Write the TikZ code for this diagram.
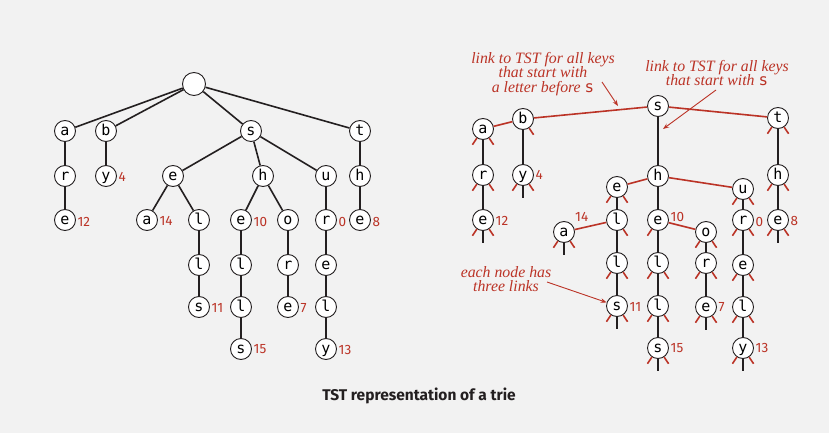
\documentclass[tikz,border=0pt]{standalone}
\usepackage{fontspec}
\setmainfont{Liberation Serif}
\newfontfamily\nodefont{DejaVu Sans Mono}
\newfontfamily\lblfont{Fira Sans}
\usetikzlibrary{arrows.meta}
\definecolor{bgc}{RGB}{242,242,242}
\definecolor{tstred}{RGB}{187,51,38}
\definecolor{edgec}{RGB}{35,31,32}
\newcommand\stL[1]{\draw[rl] (#1.-124) -- ++(-124:8pt);}
\newcommand\stR[1]{\draw[rl] (#1.-56) -- ++(-56:8pt);}
\newcommand\stM[1]{\draw[blk] (#1.south) -- ++(0pt,-12pt);}
\begin{document}
\begin{tikzpicture}[x=1pt,y=-1pt,
  nd/.style={circle,draw=edgec,line width=0.9pt,fill=white,minimum size=21pt,inner sep=0pt,
    font=\nodefont\fontsize{15}{15}\selectfont,text height=10.5pt,text depth=2.3pt},
  rootnd/.style={nd,minimum size=23pt},
  blk/.style={draw=edgec,line width=1.6pt},
  rl/.style={draw=tstred,line width=1.6pt},
  num/.style={inner sep=0pt,text=tstred,font=\lblfont\fontsize{13.5}{13.5}\selectfont},
  ann/.style={inner sep=0pt,align=center,text=tstred,font=\itshape\fontsize{15.8}{14.5}\selectfont},
  redarr/.style={draw=tstred,line width=0.9pt,-{Stealth[length=6pt,width=4.5pt]}}]
\fill[bgc] (0,0) rectangle (829,433);
\useasboundingbox (0,0) rectangle (829,433);
% ---------- left trie ----------
\node[rootnd] (Lroot) at (194,84) {};
\node[nd] (La) at (65,131) {a};
\node[nd] (Lb) at (106,131) {b};
\node[nd] (Ls) at (251,131) {s};
\node[nd] (Lt) at (360,131) {t};
\node[nd] (Lr) at (65,176) {r};
\node[nd] (Ly) at (106,176) {y};
\node[nd] (Le) at (173,176) {e};
\node[nd] (Lh) at (263,176) {h};
\node[nd] (Lu) at (326,176) {u};
\node[nd] (Lth) at (360,176) {h};
\node[nd] (Le12) at (65,220) {e};
\node[nd] (La14) at (147,220) {a};
\node[nd] (Ll1) at (199,220) {l};
\node[nd] (Le10) at (241,220) {e};
\node[nd] (Lo) at (288,220) {o};
\node[nd] (Lr0) at (326,220) {r};
\node[nd] (Le8) at (360,220) {e};
\node[nd] (Ll2) at (199,265) {l};
\node[nd] (Ll3) at (241,265) {l};
\node[nd] (Lr2) at (288,265) {r};
\node[nd] (Le3) at (326,265) {e};
\node[nd] (Ls11) at (199,307) {s};
\node[nd] (Ll4) at (241,307) {l};
\node[nd] (Le7) at (288,307) {e};
\node[nd] (Ll5) at (326,307) {l};
\node[nd] (Ls15) at (241,349) {s};
\node[nd] (Ly13) at (326,349) {y};
\foreach \a/\b in {Lroot/La,Lroot/Lb,Lroot/Ls,Lroot/Lt,La/Lr,Lr/Le12,Lb/Ly,
  Ls/Le,Ls/Lh,Ls/Lu,Le/La14,Le/Ll1,Ll1/Ll2,Ll2/Ls11,Lh/Le10,Lh/Lo,
  Le10/Ll3,Ll3/Ll4,Ll4/Ls15,Lo/Lr2,Lr2/Le7,Lu/Lr0,Lr0/Le3,Le3/Ll5,Ll5/Ly13,
  Lt/Lth,Lth/Le8}
  \draw[blk] (\a) -- (\b);
\node[num,anchor=west] (nLy) at ([xshift=1.5pt,yshift=-0.5pt]Ly.east) {4};
\node[num,anchor=west] (nLe12) at ([xshift=1.5pt,yshift=-1.5pt]Le12.east) {12};
\node[num,anchor=west] (nLa14) at ([xshift=1.5pt,yshift=-1pt]La14.east) {14};
\node[num,anchor=west] (nLe10) at ([xshift=1.5pt,yshift=-1.5pt]Le10.east) {10};
\node[num,anchor=west] (nLr0) at ([xshift=1.5pt,yshift=-1.5pt]Lr0.east) {0};
\node[num,anchor=west] (nLe8) at ([xshift=1.5pt,yshift=-1.5pt]Le8.east) {8};
\node[num,anchor=west] (nLs11) at ([xshift=1.5pt,yshift=-0.5pt]Ls11.east) {11};
\node[num,anchor=west] (nLe7) at ([xshift=1.5pt,yshift=-1pt]Le7.east) {7};
\node[num,anchor=west] (nLs15) at ([xshift=1.5pt,yshift=-0.5pt]Ls15.east) {15};
\node[num,anchor=west] (nLy13) at ([xshift=1.5pt,yshift=-0.5pt]Ly13.east) {13};
% ---------- right TST ----------
\node[nd] (Rs) at (658,106) {s};
\node[nd] (Rb) at (523,119) {b};
\node[nd] (Ra) at (483,129) {a};
\node[nd] (Rt) at (778,118) {t};
\node[nd] (Rr) at (483,175) {r};
\node[nd] (Ry) at (523,175) {y};
\node[nd] (Rh) at (658,176) {h};
\node[nd] (Re) at (617,187) {e};
\node[nd] (Ru) at (743,189) {u};
\node[nd] (Rth) at (778,175) {h};
\node[nd] (Re12) at (483,220) {e};
\node[nd] (Ra14) at (564,232) {a};
\node[nd] (Rl1) at (617,220) {l};
\node[nd] (Re10) at (658,220) {e};
\node[nd] (Ro) at (706,232) {o};
\node[nd] (Rr0) at (743,220) {r};
\node[nd] (Re8) at (778,220) {e};
\node[nd] (Rl2) at (617,263) {l};
\node[nd] (Rl3) at (658,263) {l};
\node[nd] (Rr2) at (706,263) {r};
\node[nd] (Re3) at (743,265) {e};
\node[nd] (Rs11) at (617,306) {s};
\node[nd] (Rl4) at (658,306) {l};
\node[nd] (Re7) at (706,307) {e};
\node[nd] (Rl5) at (743,307) {l};
\node[nd] (Rs15) at (658,348) {s};
\node[nd] (Ry13) at (743,348) {y};
\foreach \a/\b in {Rs/Rb,Rs/Rt,Rb/Ra,Rh/Re,Rh/Ru,Rl1/Ra14,Re10/Ro}
  \draw[rl] (\a) -- (\b);
\foreach \a/\b in {Rs/Rh,Rb/Ry,Ra/Rr,Rr/Re12,Rt/Rth,Rth/Re8,Rh/Re10,Re/Rl1,Rl1/Rl2,
  Rl2/Rs11,Re10/Rl3,Rl3/Rl4,Rl4/Rs15,Ro/Rr2,Rr2/Re7,Ru/Rr0,Rr0/Re3,Re3/Rl5,Rl5/Ry13}
  \draw[blk] (\a) -- (\b);
\foreach \n in {Ra,Rr,Re12,Ry,Rt,Rth,Re8,Re,Ra14,Rl2,Rs11,Re10,Ro,Rr2,Re7,Rl3,Rl4,Rs15,Ru,Rr0,Re3,Rl5,Ry13}
  {\stL{\n}}
\foreach \n in {Ra,Rb,Rr,Re12,Ry,Rt,Rth,Re8,Re,Rl1,Ra14,Rl2,Rs11,Ro,Rr2,Re7,Rl3,Rl4,Rs15,Ru,Rr0,Re3,Rl5,Ry13}
  {\stR{\n}}
\foreach \n in {Re12,Ry,Re8,Ra14,Rs11,Re7,Rs15,Ry13}
  {\stM{\n}}
\node[num,anchor=west] (nRy) at ([xshift=1.5pt,yshift=0pt]Ry.east) {4};
\node[num,anchor=west] (nRe12) at ([xshift=1.5pt,yshift=-1pt]Re12.east) {12};
\node[num,anchor=west] (nRa14) at ([xshift=11pt,yshift=15pt]Ra14.center) {14};
\node[num,anchor=west] (nRe10) at ([xshift=12.5pt,yshift=3pt]Re10.center) {10};
\node[num,anchor=west] (nRr0) at ([xshift=1.5pt,yshift=-2pt]Rr0.east) {0};
\node[num,anchor=west] (nRe8) at ([xshift=1.5pt,yshift=-1pt]Re8.east) {8};
\node[num,anchor=west] (nRs11) at ([xshift=1.5pt,yshift=-1pt]Rs11.east) {11};
\node[num,anchor=west] (nRe7) at ([xshift=1.5pt,yshift=0pt]Re7.east) {7};
\node[num,anchor=west] (nRs15) at ([xshift=1.5pt,yshift=0pt]Rs15.east) {15};
\node[num,anchor=west] (nRy13) at ([xshift=1.5pt,yshift=0pt]Ry13.east) {13};
% ---------- annotations ----------
\node[ann] (t1) at (543,74) {link to TST for all keys\\that start with\\a letter before {\upshape\nodefont s}};
\node[ann] (t2) at (717,73) {link to TST for all keys\\that start with {\upshape\nodefont s}};
\node[ann] (t3) at (506,279) {each node has\\three links};
\coordinate (a1s) at (602,82);
\coordinate (a1e) at (618,106);
\coordinate (a2s) at (716,90);
\coordinate (a2e) at (663,129);
\coordinate (a3s) at (547,282);
\draw[redarr] (a1s) -- (a1e);
\draw[redarr] (a2s) -- (a2e);
\draw[redarr] (a3s) -- (Rs11);
% ---------- caption ----------
\node[inner sep=0pt,text=edgec,font=\lblfont\bfseries\fontsize{15.5}{15.5}\selectfont] (cap) at (419,396) {TST representation of a trie};
\end{tikzpicture}
\end{document}
